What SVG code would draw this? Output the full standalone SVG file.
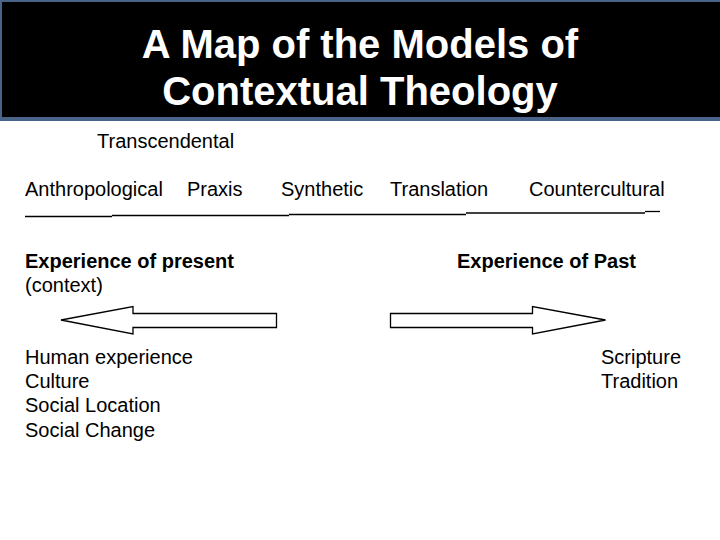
<svg xmlns="http://www.w3.org/2000/svg" width="720" height="540" viewBox="0 0 720 540">
<style>
.t{font-family:"Liberation Sans",Arial,sans-serif;font-size:20px;fill:#000}
.b{font-weight:bold}
.title{font-family:"Liberation Sans",Arial,sans-serif;font-size:40px;font-weight:bold;fill:#fff;text-anchor:middle}
.arrow{fill:#fff;stroke:#000;stroke-width:1.3}
.rule{fill:none;stroke:#000;stroke-width:1.3}
.edge{fill:#4a6388}
</style>
<rect width="720" height="540" fill="#fff"/>
<g id="title">
<rect x="0" y="0" width="720" height="121" fill="#000"/>
<rect class="edge" x="0" y="0" width="720" height="2"/>
<rect class="edge" x="0" y="0" width="2" height="121"/>
<rect class="edge" x="0" y="117" width="720" height="4"/>
<text class="title" x="360" y="58">A Map of the Models of</text>
<text class="title" x="360" y="105">Contextual Theology</text>
</g>
<g id="models">
<text class="t" x="97" y="148">Transcendental</text>
<text class="t" x="25" y="196">Anthropological</text>
<text class="t" x="187" y="196">Praxis</text>
<text class="t" x="281" y="196">Synthetic</text>
<text class="t" x="390" y="196">Translation</text>
<text class="t" x="529" y="196">Countercultural</text>
</g>
<g id="connectors">
<line class="rule" x1="25" y1="216.5" x2="112" y2="216.5"/>
<line class="rule" x1="112" y1="215.5" x2="289" y2="215.5"/>
<line class="rule" x1="289" y1="214.5" x2="466" y2="214.5"/>
<line class="rule" x1="466" y1="213" x2="645" y2="213"/>
<line class="rule" x1="645" y1="211.5" x2="660" y2="211.5"/>
<polygon class="arrow" points="61,320 133,306.5 133,313.5 276.5,313.5 276.5,327.5 133,327.5 133,334"/>
<polygon class="arrow" points="605.5,320 532.5,306.5 532.5,313.5 390.5,313.5 390.5,327.5 532.5,327.5 532.5,334"/>
</g>
<g id="present">
<text class="t b" x="25" y="268">Experience of present</text>
<text class="t" x="25" y="292">(context)</text>
<text class="t" x="25" y="364">Human experience</text>
<text class="t" x="25" y="388">Culture</text>
<text class="t" x="25" y="412">Social Location</text>
<text class="t" x="25" y="437">Social Change</text>
</g>
<g id="past">
<text class="t b" x="457" y="268">Experience of Past</text>
<text class="t" x="601" y="364">Scripture</text>
<text class="t" x="601" y="388">Tradition</text>
</g>
</svg>
